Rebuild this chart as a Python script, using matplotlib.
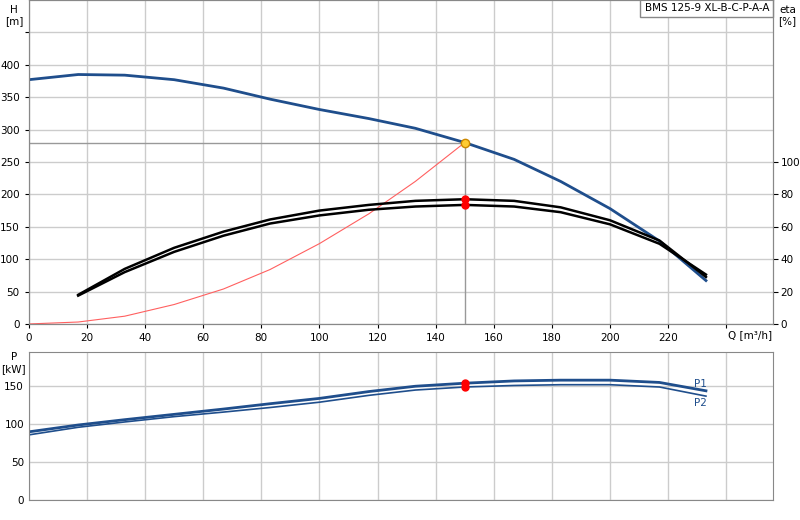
import numpy as np
import matplotlib
matplotlib.use('Agg')
import matplotlib.pyplot as plt

# 数据
q = [0, 17, 33, 50, 67, 83, 100, 117, 133, 150, 167, 183, 200, 217, 233]
h = [377, 385, 384, 377, 364, 347, 331, 317, 302, 280, 254, 220, 178, 128, 67]
q_eta = q[1:]
eta1 = [18, 34, 47, 57, 64.5, 70, 73.5, 76, 77, 76, 72, 64, 51.5, 29]
eta2 = [17.5, 32, 44.5, 54.5, 62, 67, 70.5, 72.5, 73.5, 72.5, 69, 61.5, 49.5, 30.5]
q_sys = [0, 17, 33, 50, 67, 83, 100, 117, 133, 150]
h_sys = [0, 3, 12, 30, 54, 84, 124, 170, 220, 280]
p1 = [90, 99, 106, 113, 120, 127, 134, 143, 150, 154, 157, 158, 158, 155, 144]
p2 = [86, 96, 103, 110, 116, 122, 129, 138, 145, 149, 151, 152, 152, 149, 137]
duty_q, duty_h = 150, 280
duty_eta = [77, 73.5]
duty_p = [154, 149]

blue = '#1f4e8c'
grid = '#cccccc'
fs = 7.5

fig = plt.figure(figsize=(8, 5.2), dpi=100)
ax = fig.add_axes([0.036, 0.377, 0.93, 0.623])
ax2 = ax.twinx()
axp = fig.add_axes([0.036, 0.038, 0.93, 0.285])

ax.set_xlim(0, 256)
ax.set_ylim(0, 500)
ax2.set_ylim(0, 200)
ax.set_xticks(range(0, 241, 20))
ax.set_xticklabels([str(v) for v in range(0, 221, 20)] + [''], fontsize=fs)
ax.set_yticks(range(0, 451, 50))
ax.set_yticklabels([str(v) for v in range(0, 401, 50)] + [''], fontsize=fs)
ax2.set_yticks(range(0, 101, 20))
ax2.tick_params(labelsize=fs, pad=2)
ax.grid(True, color=grid, lw=1)
ax.tick_params(length=3)
ax.text(-0.02, 0.985, 'H\n[m]', transform=ax.transAxes, ha='center', va='top', fontsize=fs)
ax.text(1.02, 0.985, 'eta\n[%]', transform=ax.transAxes, ha='center', va='top', fontsize=fs)
ax.text(240.5, -9, 'Q [m³/h]', ha='left', va='top', fontsize=fs)
ax.text(0.995, 0.99, 'BMS 125-9 XL-B-C-P-A-A', transform=ax.transAxes, ha='right', va='top',
        fontsize=fs, bbox=dict(facecolor='white', edgecolor='#888888', pad=3))

ax.plot([0, duty_q], [duty_h, duty_h], color='#999999', lw=1)
ax.plot([duty_q, duty_q], [0, duty_h], color='#999999', lw=1)
ax.plot(q_sys, h_sys, color='#ff6060', lw=0.8)
ax.plot(q, h, color=blue, lw=2)
ax2.plot(q_eta, eta1, color='black', lw=1.8)
ax2.plot(q_eta, eta2, color='black', lw=1.8)
ax2.plot([duty_q] * 2, duty_eta, 'o', color='red', ms=5)
ax.plot(duty_q, duty_h, 'o', color='#ffcc33', mec='#cc8800', ms=6, zorder=5)

axp.set_xlim(0, 256)
axp.set_ylim(0, 195)
axp.set_xticks(range(0, 241, 20))
axp.set_xticklabels([])
axp.set_yticks(range(0, 151, 50))
axp.tick_params(labelsize=fs, length=0)
axp.grid(True, color=grid, lw=1)
axp.plot(q, p1, color=blue, lw=2)
axp.plot(q, p2, color=blue, lw=1.2)
axp.plot([duty_q] * 2, duty_p, 'o', color='red', ms=5)
axp.text(229, p1[-1] + 3, 'P1', color=blue, fontsize=fs, va='bottom')
axp.text(229, p2[-1] - 3, 'P2', color=blue, fontsize=fs, va='top')
axp.text(-0.02, 1.0, 'P\n[kW]', transform=axp.transAxes, ha='center', va='top', fontsize=fs)

for a in (ax, ax2, axp):
    for s in a.spines.values():
        s.set_color('#888888')

fig.savefig('out.png', dpi=100)
